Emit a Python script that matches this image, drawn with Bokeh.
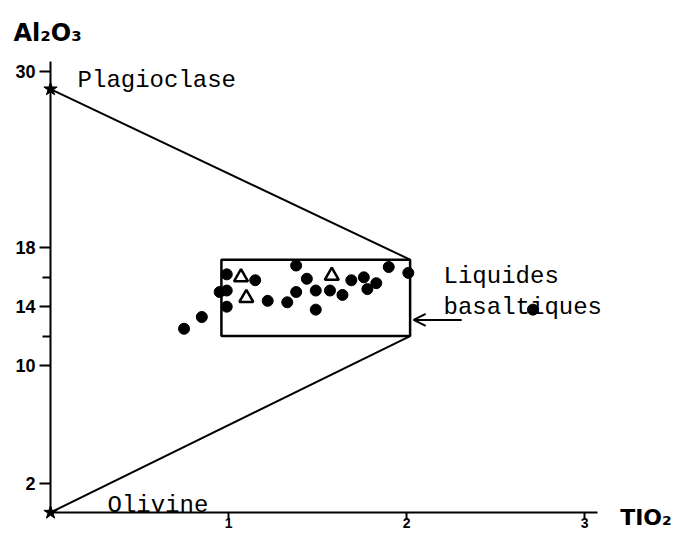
from bokeh.plotting import figure
from bokeh.models import Range1d, FixedTicker, Arrow, OpenHead
from bokeh.core.properties import value
from bokeh.embed import file_html
from bokeh.resources import INLINE

# ---- data ----
liq_tio2 = [0.75, 0.85, 0.95, 0.99, 0.99, 0.99, 1.15, 1.22, 1.33, 1.38, 1.38, 1.44,
            1.49, 1.49, 1.57, 1.64, 1.69, 1.76, 1.78, 1.83, 1.90, 2.01, 2.71]
liq_al2o3 = [12.5, 13.3, 15.0, 16.2, 15.1, 14.0, 15.8, 14.4, 14.3, 15.0, 16.8, 15.9,
             15.1, 13.8, 15.1, 14.8, 15.8, 16.0, 15.2, 15.6, 16.7, 16.3, 13.8]
tri_tio2 = [1.07, 1.10, 1.58]
tri_al2o3 = [16.0, 14.6, 16.1]
box_tio2 = [0.96, 2.02]
box_al2o3 = [12.0, 17.2]
end_names = ["Plagioclase", "Olivine"]
end_tio2 = [0.0, 0.0]
end_al2o3 = [28.8, 0.0]
x_ticks = [1, 2, 3]
y_ticks = [2, 10, 14, 18, 30]
y_minor = [12, 16]
x_title = "TIO₂"
y_title = "Al₂O₃"
box_label = ["Liquides", "basaltiques"]

# ---- figure ----
p = figure(width=680, height=532,
           x_range=Range1d(-0.281, 3.539), y_range=Range1d(-1.361, 34.83),
           output_backend="svg", toolbar_location=None, min_border=0)
p.outline_line_color = None
p.grid.visible = False
p.background_fill_color = "white"

for ax in (p.xaxis[0], p.yaxis[0]):
    ax.fixed_location = 0
    ax.axis_line_width = 2
    ax.axis_line_color = "black"
    ax.major_tick_line_width = 2
    ax.major_tick_line_color = "black"
    ax.minor_tick_line_width = 2
    ax.minor_tick_line_color = "black"
    ax.major_tick_in = 0
    ax.minor_tick_in = 0
    ax.major_label_text_font = "Liberation Sans"
    ax.major_label_text_font_style = "bold"
    ax.major_label_text_color = "black"

p.xaxis.bounds = (0, 3.07)
p.xaxis.ticker = FixedTicker(ticks=x_ticks)
p.xaxis.major_tick_out = 6
p.xaxis.minor_tick_out = 0
p.xaxis.major_label_standoff = 0
p.xaxis.major_label_text_font_size = "14px"

p.yaxis.bounds = (0, 30.7)
p.yaxis.ticker = FixedTicker(ticks=y_ticks, minor_ticks=y_minor)
p.yaxis.major_tick_out = 11
p.yaxis.minor_tick_out = 8
p.yaxis.major_label_standoff = 4
p.yaxis.major_label_text_font_size = "18px"

# mixing lines plagioclase / olivine -> basalt box corners
p.segment(x0=[end_tio2[0], end_tio2[1]], y0=[end_al2o3[0], end_al2o3[1]],
          x1=[box_tio2[1], box_tio2[1]], y1=[box_al2o3[1], box_al2o3[0]],
          line_color="black", line_width=2)

# basalt box
p.quad(left=[box_tio2[0]], right=[box_tio2[1]], bottom=[box_al2o3[0]], top=[box_al2o3[1]],
       fill_color=None, line_color="black", line_width=2.5)

# end members
p.scatter(end_tio2, end_al2o3, marker="star", size=14, fill_color="black", line_color="black")

# samples
p.scatter(liq_tio2, liq_al2o3, marker="circle", size=11, fill_color="black", line_color="black")
p.scatter(tri_tio2, tri_al2o3, marker="triangle", size=14, fill_color="white",
          line_color="black", line_width=2.5)

mono = value("Liberation Mono")
p.text(x=[0.152], y=[29.39], text=[end_names[0]], text_font=mono, text_font_size="24px",
       text_baseline="alphabetic", text_align="left", text_color="black")
p.text(x=[0.32], y=[0.48], text=[end_names[1]], text_font=mono, text_font_size="24px",
       text_baseline="alphabetic", text_align="left", text_color="black")
p.text(x=[2.208, 2.208], y=[16.05, 13.95], text=box_label, text_font=mono, text_font_size="24px",
       text_baseline="alphabetic", text_align="left", text_color="black")

sans = value("DejaVu Sans")
p.text(x=[-0.208], y=[32.65], text=[y_title], text_font=sans, text_font_style="bold",
       text_font_size="24px", text_baseline="alphabetic", text_align="left", text_color="black")
p.text(x=[3.20], y=[-0.35], text=[x_title], text_font=sans, text_font_style="bold",
       text_font_size="22px", text_baseline="alphabetic", text_align="left", text_color="black")

p.add_layout(Arrow(end=OpenHead(size=12, line_width=2, line_color="black"),
                   x_start=2.31, y_start=13.1, x_end=2.04, y_end=13.1,
                   line_width=2, line_color="black"))

open("out.html", "w").write(file_html(p, INLINE))
